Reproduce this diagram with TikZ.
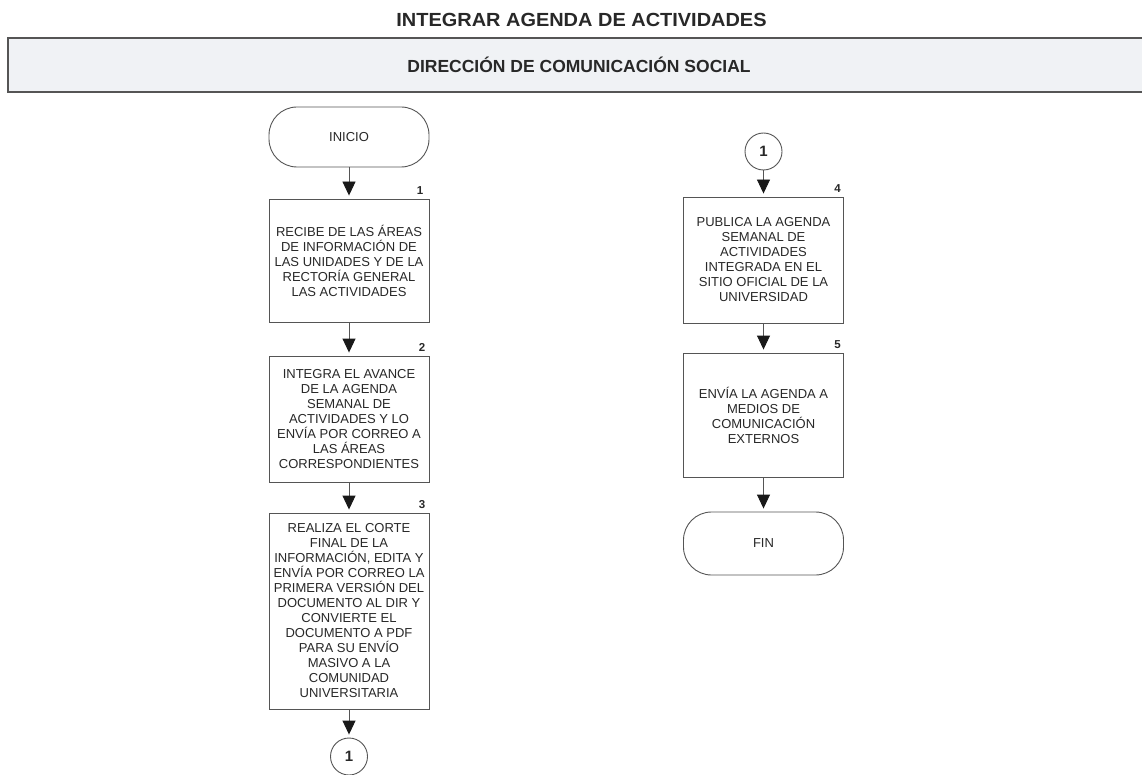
\documentclass[tikz,border=0pt]{standalone}
\usepackage{fontspec}
\setmainfont{Liberation Sans}
\newfontfamily\titlefont[FakeStretch=1.05]{Liberation Sans}
\usetikzlibrary{arrows.meta}
\definecolor{ink}{RGB}{40,40,40}
\definecolor{linec}{RGB}{85,85,85}
\definecolor{tipc}{RGB}{25,25,25}
\definecolor{hdrfill}{RGB}{240,242,245}
\begin{document}
\begin{tikzpicture}[x=1pt,y=-1pt,
  proc/.style={draw=linec, line width=0.9pt, fill=white, minimum width=160pt, inner sep=0pt, align=center, text=ink, font=\fontsize{13}{15}\selectfont},
  term/.style={proc, rounded corners=28pt},
  conn/.style={draw=linec, line width=0.9pt, circle, fill=white, minimum size=37pt, inner sep=0pt, text=ink, font=\fontsize{15}{15}\selectfont\bfseries},
  num/.style={text=ink, font=\fontsize{11.5}{11.5}\selectfont\bfseries, inner sep=0pt, anchor=south east},
  arr/.style={draw=linec, line width=0.9pt, -{Triangle[width=13pt,length=14pt,color=tipc]}, shorten >=3pt}]
\useasboundingbox (0,0) rectangle (1142,775);
\clip (0,0) rectangle (1142,775);
\fill[white] (0,0) rectangle (1142,775);

\node[text=ink, font=\titlefont\fontsize{19}{19}\selectfont\bfseries] (title) at (581.5,19.5) {INTEGRAR AGENDA DE ACTIVIDADES};
\node[draw=linec, line width=1.3pt, fill=hdrfill, minimum width=1142pt, minimum height=54pt, inner sep=0pt, text=ink, font=\fontsize{17.5}{17.5}\selectfont\bfseries] (hdr) at (579,65) {DIRECCIÓN DE COMUNICACIÓN SOCIAL};

% left column
\node[term, minimum height=60pt] (inicio) at (349,137) {INICIO};
\node[proc, minimum height=123pt] (b1) at (349,260.5) {RECIBE DE LAS ÁREAS\\DE INFORMACIÓN DE\\LAS UNIDADES Y DE LA\\RECTORÍA GENERAL\\LAS ACTIVIDADES};
\node[proc, minimum height=126pt] (b2) at (349,419) {INTEGRA EL AVANCE\\DE LA AGENDA\\SEMANAL DE\\ACTIVIDADES Y LO\\ENVÍA POR CORREO A\\LAS ÁREAS\\CORRESPONDIENTES};
\node[proc, minimum height=196pt] (b3) at (349,611) {REALIZA EL CORTE\\FINAL DE LA\\INFORMACIÓN, EDITA Y\\ENVÍA POR CORREO LA\\PRIMERA VERSIÓN DEL\\DOCUMENTO AL DIR Y\\CONVIERTE EL\\DOCUMENTO A PDF\\PARA SU ENVÍO\\MASIVO A LA\\COMUNIDAD\\UNIVERSITARIA};
\node[conn] (c1) at (349,756.5) {1};

\node[num] (n1) at ([xshift=-6pt,yshift=4pt]b1.north east) {1};
\node[num] (n2) at ([xshift=-4pt,yshift=4pt]b2.north east) {2};
\node[num] (n3) at ([xshift=-4pt,yshift=4pt]b3.north east) {3};

\draw[arr] (inicio) -- (b1);
\draw[arr] (b1) -- (b2);
\draw[arr] (b2) -- (b3);
\draw[arr] (b3) -- (c1);

% right column
\node[conn] (c2) at (763.5,151.5) {1};
\node[proc, minimum height=126pt] (b4) at (763.5,260) {PUBLICA LA AGENDA\\SEMANAL DE\\ACTIVIDADES\\INTEGRADA EN EL\\SITIO OFICIAL DE LA\\UNIVERSIDAD};
\node[proc, minimum height=124pt] (b5) at (763.5,415) {ENVÍA LA AGENDA A\\MEDIOS DE\\COMUNICACIÓN\\EXTERNOS};
\node[term, minimum height=63pt] (fin) at (763.5,543.5) {FIN};

\node[num] (n4) at ([xshift=-3pt,yshift=4pt]b4.north east) {4};
\node[num] (n5) at ([xshift=-3pt,yshift=4pt]b5.north east) {5};

\draw[arr] (c2) -- (b4);
\draw[arr] (b4) -- (b5);
\draw[arr] (b5) -- (fin);
\end{tikzpicture}
\end{document}
